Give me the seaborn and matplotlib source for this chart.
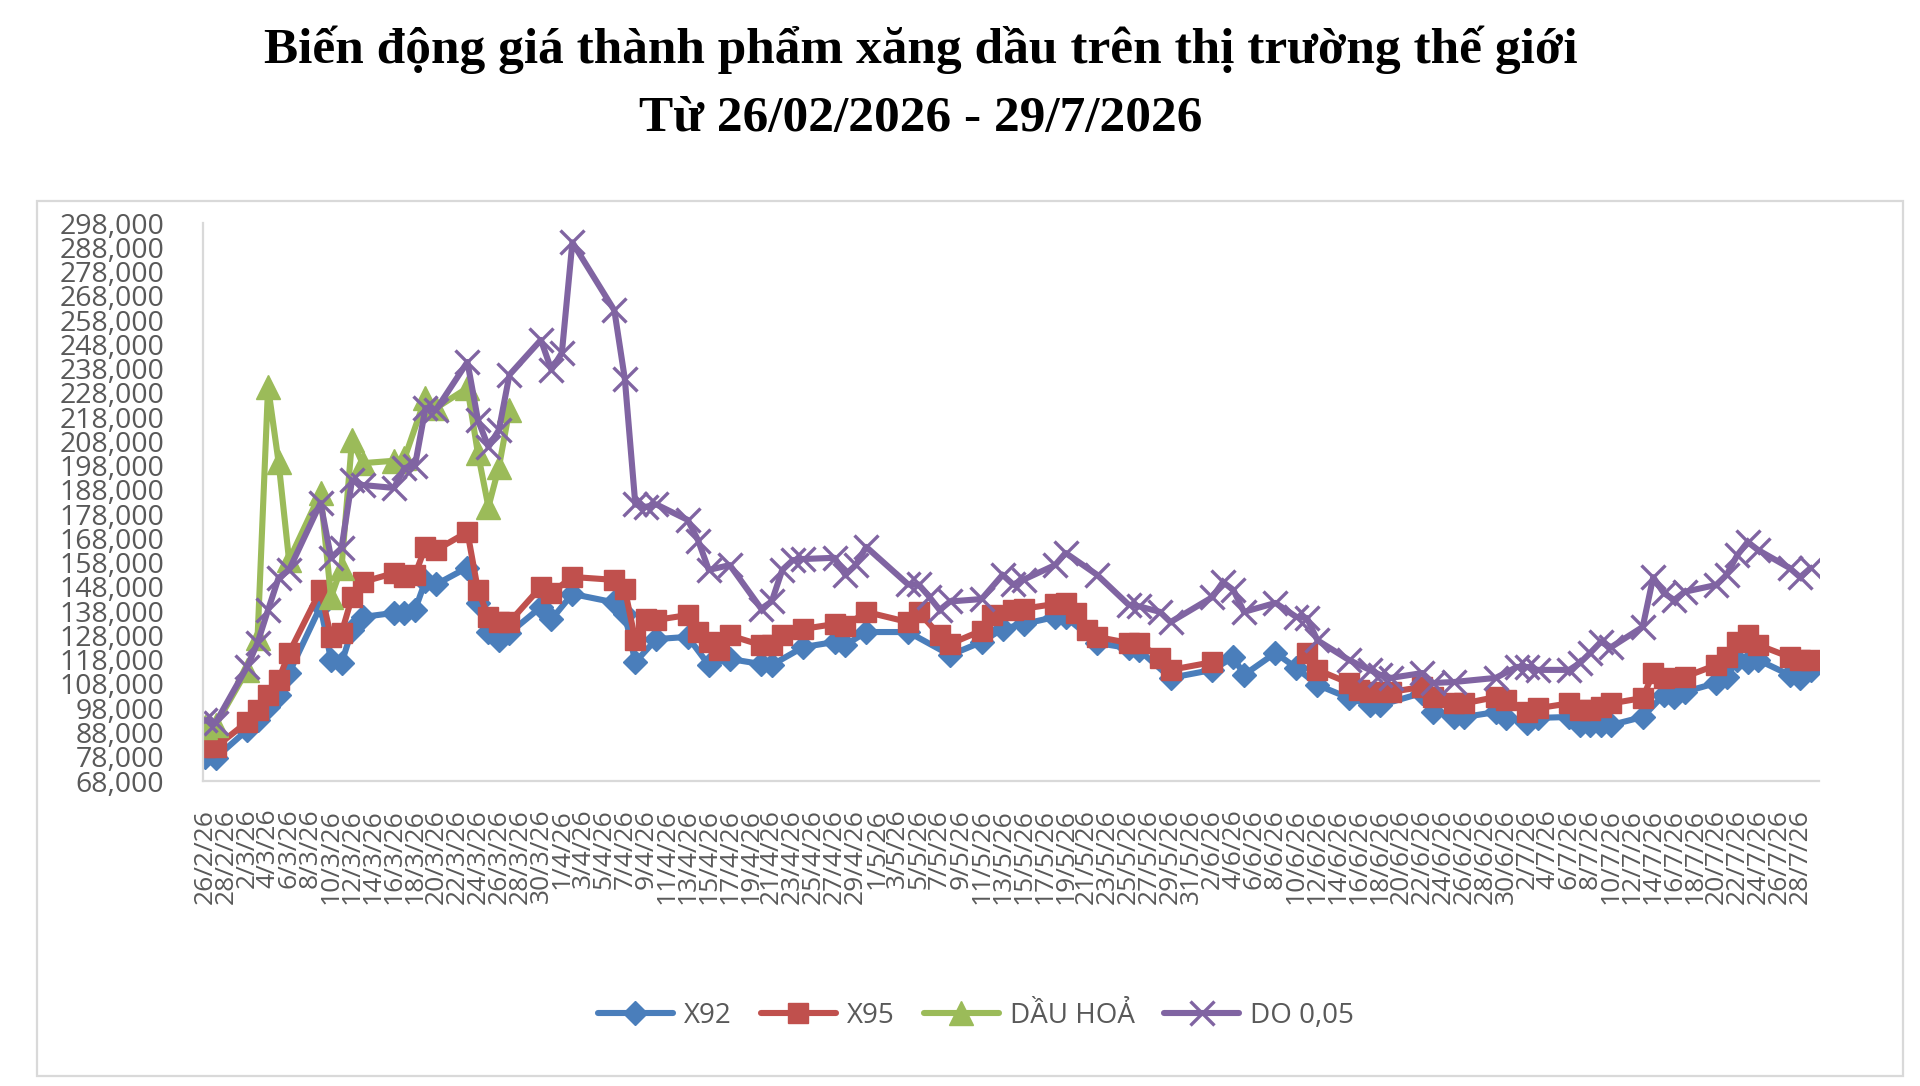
import matplotlib
matplotlib.use("Agg")
import matplotlib.pyplot as plt
import matplotlib.dates as mdates
from matplotlib.patches import Rectangle
import seaborn as sns
import pandas as pd
import numpy as np

# ---------------- data (days counted from START, values in VND) ----------------
START = "2026-02-26"
TITLE_1 = "Biến động giá thành phẩm xăng dầu trên thị trường thế giới"
TITLE_2 = "Từ 26/02/2026 - 29/7/2026"
SERIES = ["X92", "X95", "DẦU HOẢ", "DO 0,05"]

x92_days = [0, 1, 4, 5, 6, 7, 8, 11, 12, 13, 14, 15, 18, 19, 20, 21, 22, 25, 26, 27, 28, 29,
            32, 33, 35, 39, 40, 41, 43, 46, 48, 50, 53, 54, 57, 60, 61, 63, 67, 71, 74, 76, 78,
            81, 82, 85, 88, 89, 92, 96, 98, 99, 102, 104, 106, 109, 111, 112, 116, 117, 119, 120,
            123, 124, 126, 127, 130, 131, 132, 133, 134, 137, 139, 140, 141, 144, 145, 146, 147,
            148, 151, 152, 153]
x92_vals = [78000, 77500, 89000, 93000, 98500, 103500, 112500, 140000, 117900, 116600, 130200,
            135600, 137300, 137300, 138500, 150500, 149000, 156000, 141400, 129400, 126000, 129000,
            139700, 134600, 145100, 141600, 136800, 117000, 126500, 127400, 115800, 118300, 116200,
            115800, 123200, 125300, 124000, 129400, 129400, 119900, 125300, 130700, 132700, 135600,
            135600, 124900, 122800, 122000, 110500, 113800, 119100, 111700, 120800, 114600, 107600,
            102200, 99300, 99300, 104300, 96400, 94400, 94400, 96400, 94000, 91900, 94000, 94400,
            91100, 91100, 91100, 91100, 94400, 103500, 102600, 104700, 108400, 110900, 117900,
            117000, 117900, 111700, 110500, 113800]

x95_days = [0, 1, 4, 5, 6, 7, 8, 11, 12, 13, 14, 15, 18, 19, 20, 21, 22, 25, 26, 27, 28, 29,
            32, 33, 35, 39, 40, 41, 42, 43, 46, 47, 48, 49, 50, 53, 54, 55, 57, 60, 61, 63, 67, 68,
            70, 71, 74, 75, 77, 78, 81, 82, 83, 84, 85, 88, 89, 91, 92, 96, 105, 106, 109, 110,
            111, 113, 116, 117, 119, 120, 123, 124, 126, 127, 130, 131, 132, 133, 134, 137, 138,
            139, 141, 144, 145, 146, 147, 148, 151, 152, 153]
x95_vals = [82000, 82000, 92300, 97300, 103500, 109600, 120800, 146700, 127400, 129000, 143800,
            150000, 153700, 152000, 153000, 164500, 163200, 170600, 146700, 135600, 133500, 133500,
            148000, 145500, 152100, 150900, 147000, 126000, 134800, 134400, 136400, 129400, 125300,
            122000, 128000, 124000, 124000, 128000, 130700, 132700, 131900, 137700, 133500, 137700,
            128000, 124500, 130000, 136400, 138500, 139000, 141000, 141400, 137300, 130200, 127400,
            124900, 124900, 118700, 113800, 117000, 120800, 113800, 108400, 105500, 104700, 104700,
            106800, 102600, 100000, 100000, 102600, 101300, 96400, 98000, 100000, 97200, 97200,
            98500, 100000, 102200, 112500, 110500, 110900, 115800, 119100, 125300, 128200, 124100,
            119100, 117900, 117900]
x95_gap_after = 96   # X95 line is broken between 96 and 105

dh_days = [0, 1, 4, 5, 6, 7, 8, 11, 12, 13, 14, 15, 18, 19, 21, 22, 25, 26, 27, 28, 29]
dh_vals = [90300, 91000, 113700, 127000, 230400, 199500, 159000, 186700, 143800, 156000, 208600,
           199000, 200000, 201000, 226000, 221700, 230000, 203000, 181000, 197400, 221000]

do_days = [0, 1, 4, 5, 6, 7, 8, 11, 12, 13, 14, 15, 18, 19, 20, 21, 22, 25, 26, 27, 28, 29,
           32, 33, 34, 35, 39, 40, 41, 42, 43, 46, 47, 48, 50, 53, 54, 55, 56, 57, 60, 61, 62, 63,
           67, 68, 69, 70, 71, 74, 76, 77, 78, 81, 82, 85, 88, 89, 91, 92, 96, 97, 98, 99, 102,
           104, 105, 106, 109, 111, 112, 113, 116, 117, 119, 123, 125, 126, 127, 130, 131, 132,
           133, 134, 137, 138, 139, 140, 141, 144, 145, 146, 147, 148, 151, 152, 153]
do_vals = [93000, 92000, 115000, 125000, 138500, 151700, 155000, 182600, 160000, 164000, 192000,
           190000, 188800, 197000, 198000, 221700, 221000, 240700, 216800, 205700, 212700, 235400,
           249800, 237500, 244500, 290000, 262000, 233700, 182000, 181000, 182000, 175600, 167000,
           155000, 157000, 139000, 142000, 155000, 159000, 159500, 160000, 153000, 157000, 164500,
           149000, 149000, 144000, 138500, 142000, 143000, 153000, 149000, 151000, 157000, 162000,
           153000, 140700, 140000, 137700, 133500, 143800, 150000, 146700, 137700, 141400, 135600,
           135200, 126000, 117900, 113800, 111700, 110500, 112500, 108400, 108800, 110500, 115000,
           115000, 113800, 113800, 116600, 120800, 125300, 123200, 131500, 152000, 145500, 142600,
           146000, 148800, 153000, 161000, 166500, 163200, 155800, 152000, 155800]

Y_MIN, Y_MAX, Y_STEP = 68000, 298000, 10000
N_DAYS = 153
LABEL_STEP = 2

COLORS = {"X92": "#4A7EBB", "X95": "#C0504D", "DẦU HOẢ": "#9BBB59", "DO 0,05": "#8064A2"}
MARKERS = {"X92": "D", "X95": "s", "DẦU HOẢ": "^", "DO 0,05": "x"}
MSIZE = {"X92": 12.5, "X95": 14, "DẦU HOẢ": 17, "DO 0,05": 17}

# ---------------- build long table ----------------
start = pd.Timestamp(START)
frames = []
for name, days, vals in [("X92", x92_days, x92_vals), ("X95", x95_days, x95_vals),
                         ("DẦU HOẢ", dh_days, dh_vals), ("DO 0,05", do_days, do_vals)]:
    d = pd.DataFrame({"day": days, "value": vals})
    d["date"] = start + pd.to_timedelta(d["day"], unit="D")
    d["series"] = name
    if name == "X95":
        d["seg"] = np.where(d["day"] > x95_gap_after, 1, 0)
    else:
        d["seg"] = 0
    frames.append(d)
df = pd.concat(frames, ignore_index=True)

# ---------------- figure ----------------
sns.set_theme(style="white")
plt.rcParams['font.family'] = ['Open Sans', 'DejaVu Sans']

W, H = 1920, 1086
fig = plt.figure(figsize=(W / 100, H / 100), dpi=100)
L, R, T, B = 203, 1819, 223, 781
ax = fig.add_axes([L / W, 1 - B / H, (R - L) / W, (B - T) / H])

for name in SERIES:
    sub = df[df["series"] == name]
    c = COLORS[name]
    sns.lineplot(data=sub, x="date", y="value", units="seg", estimator=None,
                 ax=ax, color=c, marker=MARKERS[name], markersize=MSIZE[name],
                 markeredgecolor=c, markerfacecolor=c,
                 markeredgewidth=2.4 if name == "DO 0,05" else 1.0,
                 linewidth=4.4, label=name, legend=False, sort=True)

# axes
x0 = mdates.date2num(start)
ax.set_xlim(x0 - 0.2, x0 + 153.8)
ax.set_ylim(Y_MIN, Y_MAX)
yt = np.arange(Y_MIN, Y_MAX + 1, Y_STEP)
ax.set_yticks(yt)
ax.set_yticklabels([f"{v:,.0f}" for v in yt])

tick_dates = [start + pd.Timedelta(days=k) for k in range(0, N_DAYS, LABEL_STEP)]
tick_labels = [f"{d.day}/{d.month}/{d.strftime('%y')}" for d in tick_dates]
ax.set_xticks([mdates.date2num(d) for d in tick_dates])
ax.set_xticklabels(tick_labels, rotation=90)

ax.tick_params(axis="y", length=0, pad=28, labelsize=20.5, labelcolor="#595959")
ax.tick_params(axis="x", length=0, pad=20, labelsize=19, labelcolor="#595959")
ax.set_xlabel("")
ax.set_ylabel("")
for s in ["top", "right"]:
    ax.spines[s].set_visible(False)
for s in ["left", "bottom"]:
    ax.spines[s].set_color("#D9D9D9")
    ax.spines[s].set_linewidth(1.6)
ax.grid(False)
ax.set_facecolor("white")

# chart border
fig.add_artist(Rectangle((37 / W, 1 - 1076 / H), (1903 - 37) / W, (1076 - 201) / H,
                         transform=fig.transFigure, fill=False, edgecolor="#D9D9D9",
                         linewidth=1.6))

# titles
fig.text(921 / W, 1 - 50 / H, TITLE_1, ha="center", va="center",
         fontfamily="Liberation Serif", fontweight="bold", fontsize=37, color="black")
fig.text(921 / W, 1 - 119 / H, TITLE_2, ha="center", va="center",
         fontfamily="Liberation Serif", fontweight="bold", fontsize=37, color="black")

# legend (one entry per series)
handles, labels = ax.get_legend_handles_labels()
uniq = {}
for h, l in zip(handles, labels):
    if l not in uniq:
        uniq[l] = h
leg = fig.legend([uniq[s] for s in SERIES], SERIES, loc="center",
                 bbox_to_anchor=(976 / W, 1 - 1016 / H),
                 ncol=4, frameon=False, fontsize=20, handlelength=2.7,
                 handletextpad=0.4, columnspacing=1.05)
for t in leg.get_texts():
    t.set_color("#595959")

fig.savefig("out.png", dpi=100, facecolor="white")
